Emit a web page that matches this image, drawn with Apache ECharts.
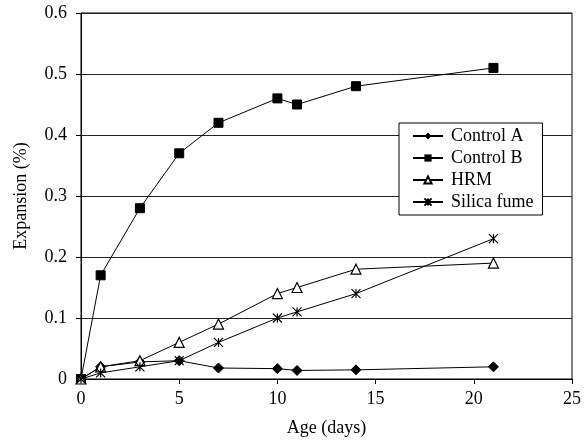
<!DOCTYPE html>
<html>
<head>
<meta charset="utf-8">
<script src="https://cdn.jsdelivr.net/npm/echarts@6/dist/echarts.min.js"></script>
<style>
  html, body { margin: 0; padding: 0; background: #fff; }
  #chart { width: 585px; height: 443px; }
</style>
</head>
<body>
<div id="chart"></div>
<script>
// Expansion measurements against age
const ages = [0, 1, 3, 5, 7, 10, 11, 14, 21];
const controlA = [0, 0.02, 0.028, 0.03, 0.018, 0.017, 0.014, 0.015, 0.02];
const controlB = [0, 0.17, 0.28, 0.37, 0.42, 0.46, 0.45, 0.48, 0.51];
const hrm = [0, 0.02, 0.03, 0.06, 0.09, 0.14, 0.15, 0.18, 0.19];
const silicaFume = [0, 0.01, 0.02, 0.03, 0.06, 0.10, 0.11, 0.14, 0.23];
const seriesNames = ['Control A', 'Control B', 'HRM', 'Silica fume'];
const xTicks = [0, 5, 10, 15, 20, 25];
const yTicks = [0, 0.1, 0.2, 0.3, 0.4, 0.5, 0.6];

const FONT = '"Liberation Serif", "DejaVu Serif", serif';
const FS = 18;
const pairs = vals => ages.map((a, i) => [a, vals[i]]);
const asterisk = 'path://M0,0L10,10M10,0L0,10M5,0L5,10';

const base = {
  type: 'line',
  lineStyle: { color: '#000', width: 1 },
  emphasis: { disabled: true },
  animation: false
};

const chart = echarts.init(document.getElementById('chart'));
chart.setOption({
  backgroundColor: '#fff',
  textStyle: { fontFamily: FONT, color: '#000' },
  grid: { left: 81, right: 13, top: 13, bottom: 64, show: true, borderColor: '#000', borderWidth: 1 },
  legend: {
    orient: 'vertical',
    left: 399,
    top: 123,
    data: seriesNames,
    backgroundColor: '#fff',
    borderColor: '#000',
    borderWidth: 1,
    borderRadius: 0,
    padding: [4, 9, 4, 13],
    itemGap: 4,
    itemWidth: 30,
    itemHeight: 9,
    textStyle: { fontFamily: FONT, fontSize: FS, color: '#000', lineHeight: 18, padding: [0, 0, 0, 3] }
  },
  xAxis: {
    type: 'value',
    min: xTicks[0],
    max: xTicks[xTicks.length - 1],
    interval: 5,
    name: 'Age (days)',
    nameLocation: 'middle',
    nameGap: 40,
    nameTextStyle: { fontFamily: FONT, fontSize: FS, color: '#000' },
    axisLine: { lineStyle: { color: '#000', width: 1 } },
    axisTick: { show: true, length: 5, lineStyle: { color: '#000' } },
    axisLabel: { fontFamily: FONT, fontSize: FS, color: '#000', margin: 11 },
    splitLine: { show: false }
  },
  yAxis: {
    type: 'value',
    min: yTicks[0],
    max: yTicks[yTicks.length - 1],
    interval: 0.1,
    name: 'Expansion (%)',
    nameLocation: 'middle',
    nameGap: 51,
    nameTextStyle: { fontFamily: FONT, fontSize: FS, color: '#000' },
    axisLine: { show: true, lineStyle: { color: '#000', width: 1 } },
    axisTick: { show: true, length: 5, lineStyle: { color: '#000' } },
    axisLabel: { fontFamily: FONT, fontSize: FS, color: '#000', margin: 14 },
    splitLine: { show: true, lineStyle: { color: '#222', width: 1 } }
  },
  series: [
    Object.assign({}, base, {
      name: seriesNames[0], data: pairs(controlA), z: 4,
      symbol: 'diamond', symbolSize: 10,
      itemStyle: { color: '#000', borderColor: '#000' }
    }),
    Object.assign({}, base, {
      name: seriesNames[1], data: pairs(controlB), z: 3,
      symbol: 'rect', symbolSize: 9,
      itemStyle: { color: '#000', borderColor: '#000' }
    }),
    Object.assign({}, base, {
      name: seriesNames[2], data: pairs(hrm), z: 5,
      symbol: 'triangle', symbolSize: 10,
      itemStyle: { color: '#fff', borderColor: '#000', borderWidth: 1.2 }
    }),
    Object.assign({}, base, {
      name: seriesNames[3], data: pairs(silicaFume), z: 6,
      symbol: asterisk, symbolSize: 9,
      itemStyle: { color: '#000', borderColor: '#000', borderWidth: 1.2 }
    })
  ]
});
</script>
</body>
</html>
